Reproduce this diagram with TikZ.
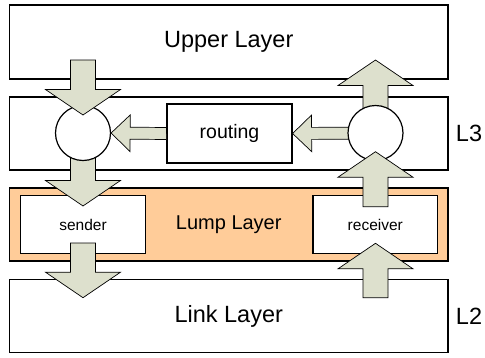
\documentclass[tikz,border=0pt]{standalone}
\usepackage{fontspec}
\setmainfont{Liberation Sans}
\usetikzlibrary{calc}
\definecolor{arrowfill}{RGB}{221,224,205}
\definecolor{lumpfill}{RGB}{255,204,153}
\tikzset{
  layerbox/.style={draw=black, line width=1.2pt, fill=white, minimum width=438.5pt,
    inner sep=0pt, font=\fontsize{23.5}{26}\selectfont},
  innerbox/.style={draw=black, line width=1.2pt, fill=white, inner sep=0pt},
  junction/.style={circle, draw=black, line width=1.2pt, fill=white, minimum size=55pt, inner sep=0pt},
  sidelabel/.style={font=\fontsize{23.5}{26}\selectfont, inner sep=0pt},
  % block arrow: #1 half shaft width, #2 half head width, #3 head length
  blockarrow/.style n args={3}{draw=black, line width=0.7pt, fill=arrowfill, line join=miter,
    to path={let \p1=(\tikztostart), \p2=(\tikztotarget),
      \n1={veclen(\x2-\x1,\y2-\y1)}, \n2={atan2(\y2-\y1,\x2-\x1)} in
      [shift={(\p1)}, rotate=\n2]
      (0,#1) -- ({\n1-#3},#1) -- ({\n1-#3},#2) -- ({\n1},0)
      -- ({\n1-#3},-#2) -- ({\n1-#3},-#1) -- (0,-#1) -- cycle}},
  bigarrow/.style={blockarrow={12.5}{37.5}{25.5}},
  smallarrow/.style={blockarrow={6}{18.3}{19}},
}
\begin{document}
\begin{tikzpicture}[x=1pt, y=-1pt]
  \useasboundingbox (0,0) rectangle (485,357);

  % layers
  \node[layerbox, minimum height=74pt] (upper) at (228.75,42) {Upper Layer};
  \node[layerbox, minimum height=73pt] (l3) at (228.75,133.5) {};
  \node[layerbox, minimum height=73pt, fill=lumpfill, font=\fontsize{20}{24}\selectfont] (lump) at (228.75,224.5) {Lump Layer};
  \node[layerbox, minimum height=73.5pt] (link) at (228.75,316) {Link Layer};
  \node[sidelabel] (l3label) at (469,133) {L3};
  \node[sidelabel] (l2label) at (469,316.5) {L2};

  % boxes inside the layers
  \node[innerbox, minimum width=125pt, minimum height=59pt, font=\fontsize{19.5}{22}\selectfont] (routing) at (229.5,133.5) {routing};
  \node[innerbox, minimum width=124.3pt, minimum height=57.3pt, font=\fontsize{15.5}{18}\selectfont] (sender) at (83,224.5) {sender};
  \node[innerbox, minimum width=124.7pt, minimum height=57.3pt, font=\fontsize{15.5}{18}\selectfont] (receiver) at (375.3,224.5) {receiver};

  % arrow ends that lie inside boxes
  \coordinate (lcin) at (83,60);
  \coordinate (lcdown) at (83,115);
  \coordinate (sendtip) at (83,206);
  \coordinate (sendout) at (83,243);
  \coordinate (linktip) at (83,297.7);
  \coordinate (rcup) at (375.5,60);
  \coordinate (linkout) at (375.5,297.7);
  \coordinate (recvtip) at (375.5,243.3);
  \coordinate (recvout) at (375.5,206.7);
  \coordinate (rcbottom) at (375.5,151.7);

  % junction centres
  \coordinate (lcc) at (83,133);
  \coordinate (rcc) at (375.5,133);

  % arrows leaving the junctions (under the circles)
  \draw[bigarrow] (lcc) to (sendtip);
  \draw[bigarrow] (rcc) to (rcup);
  \draw[smallarrow] (rcc) to (routing.east);

  % junctions
  \node[junction] (lc) at (lcc) {};
  \node[junction] (rc) at (rcc) {};

  % arrows entering the junctions and the link layer
  \draw[bigarrow] (lcin) to (lcdown);
  \draw[smallarrow] (routing.west) to (lc.east);
  \draw[bigarrow] (recvout) to (rcbottom);
  \draw[bigarrow] (sendout) to (linktip);
  \draw[bigarrow] (linkout) to (recvtip);
\end{tikzpicture}
\end{document}
